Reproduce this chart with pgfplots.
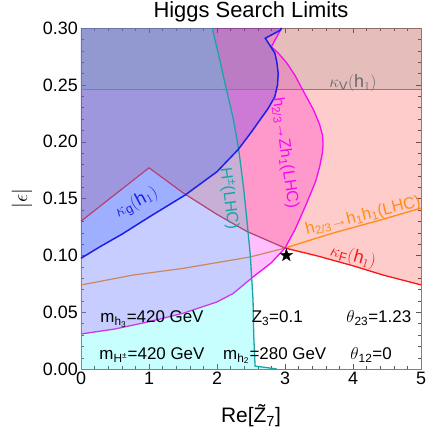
\documentclass[border=0pt]{standalone}
\usepackage{fontspec}
\setmainfont{Liberation Sans}
\usepackage{pgfplots}
\pgfplotsset{compat=1.18}
\definecolor{cteal}{RGB}{25,165,165}
\definecolor{cmagL}{RGB}{200,60,230}
\definecolor{cmagR}{RGB}{245,10,245}
\definecolor{credL}{RGB}{180,65,115}
\definecolor{credR}{RGB}{250,20,20}
\definecolor{corL}{RGB}{205,135,95}
\definecolor{corR}{RGB}{255,140,20}
\definecolor{cblue}{RGB}{30,30,230}
\definecolor{ckv}{RGB}{125,135,125}
\definecolor{ckvtext}{RGB}{105,105,105}
\definecolor{fmag}{RGB}{255,0,255}
\definecolor{fred}{RGB}{255,0,0}
\definecolor{fblue}{RGB}{0,0,255}
\definecolor{fcyan}{RGB}{0,255,255}
\pgfdeclareplotmark{fstar}{%
  \pgfpathmoveto{\pgfpointpolar{90}{\pgfplotmarksize}}%
  \pgfpathlineto{\pgfpointpolar{126}{0.4\pgfplotmarksize}}%
  \pgfpathlineto{\pgfpointpolar{162}{\pgfplotmarksize}}%
  \pgfpathlineto{\pgfpointpolar{198}{0.4\pgfplotmarksize}}%
  \pgfpathlineto{\pgfpointpolar{234}{\pgfplotmarksize}}%
  \pgfpathlineto{\pgfpointpolar{270}{0.4\pgfplotmarksize}}%
  \pgfpathlineto{\pgfpointpolar{306}{\pgfplotmarksize}}%
  \pgfpathlineto{\pgfpointpolar{342}{0.4\pgfplotmarksize}}%
  \pgfpathlineto{\pgfpointpolar{18}{\pgfplotmarksize}}%
  \pgfpathlineto{\pgfpointpolar{54}{0.4\pgfplotmarksize}}%
  \pgfpathclose\pgfusepathqfillstroke}
\begin{document}
\begin{tikzpicture}
\begin{axis}[
  scale only axis, width=340bp, height=341bp,
  xmin=0, xmax=5, ymin=0, ymax=0.3,
  xtick={0,1,2,3,4,5},
  ytick={0,0.05,0.1,0.15,0.2,0.25,0.3},
  minor x tick num=4, minor y tick num=4,
  tick align=inside,
  major tick length=5bp, minor tick length=3bp,
  axis line style={gray},
  tick style={gray!70!black},
  clip=false,
  scaled y ticks=false,
  tick label style={font=\fontsize{18}{18}\selectfont},
  /pgf/number format/assume math mode=true,
  yticklabel style={/pgf/number format/fixed, /pgf/number format/fixed zerofill, /pgf/number format/precision=2, inner sep=0pt, xshift=-3bp},
  xticklabel style={inner sep=0pt, yshift=-3bp},
]
% magenta region h2/3 -> Z h1
\addplot[draw=none, fill=fmag, fill opacity=0.25] coordinates {(0,0.0308)(0.5,0.0352)(1,0.0416)(1.5,0.049)(2,0.059)(2.24,0.0665)(2.53,0.081)(2.8,0.0935)(3.0,0.1064)(3.15,0.123)(3.32,0.146)(3.45,0.165)(3.51,0.178)(3.55,0.19)(3.56,0.198)(3.55,0.206)(3.51,0.215)(3.42,0.228)(3.26,0.2455)(3.15,0.258)(3.03,0.269)(2.9,0.278)(2.8,0.2835)(2.95,0.3)(0,0.3)};
% red region kappa_F
\addplot[draw=none, fill=fred, fill opacity=0.2] coordinates {(0,0.130)(1,0.177)(1.5,0.155)(2,0.136)(2.44,0.121)(3,0.1064)(3.5,0.0991)(4,0.0908)(4.44,0.0827)(5,0.074)(5,0.3)(0,0.3)};
% blue region kappa_g
\addplot[draw=none, fill=fblue, fill opacity=0.2] coordinates {(0,0.0974)(0.28,0.1076)(0.6,0.1185)(1.01,0.134)(1.53,0.153)(2.0,0.1736)(2.31,0.193)(2.5,0.208)(2.63,0.219)(2.75,0.229)(2.85,0.2395)(2.89,0.25)(2.9,0.26)(2.88,0.27)(2.85,0.278)(2.71,0.291)(2.93,0.298)(2.95,0.3)(0,0.3)};
% kappa_V region
\addplot[draw=none, fill=ckv, fill opacity=0.2] coordinates {(0,0.2455)(5,0.2455)(5,0.3)(0,0.3)};
% cyan region H+-
\addplot[draw=none, fill=fcyan, fill opacity=0.22] coordinates {(0,0)(2.88,0)(2.56,0.0026)(2.54,0.03)(2.53,0.0607)(2.49,0.1)(2.44,0.131)(2.39,0.16)(2.32,0.1927)(2.24,0.22)(2.14,0.2455)(2.04,0.272)(1.93,0.3)(0,0.3)};
% lines
\addplot[gray, line width=1.1bp] coordinates {(0,0.2455)(5,0.2455)};
\addplot[corL, line width=1.2bp] coordinates {(0,0.0739)(0.77,0.0827)(1.5,0.0885)(2.49,0.0986)(3.0,0.1064)};
\addplot[corR, line width=1.3bp] coordinates {(3.0,0.1064)(3.71,0.1197)(4.4,0.131)(5,0.1416)};
\addplot[credL, line width=1.2bp] coordinates {(0,0.130)(1,0.177)(1.5,0.155)(2,0.136)(2.44,0.121)(3,0.1064)};
\addplot[credR, line width=1.3bp] coordinates {(3,0.1064)(3.5,0.0991)(4,0.0908)(4.44,0.0827)(5,0.074)};
\addplot[cteal, line width=1.3bp] coordinates {(2.88,0)(2.56,0.0026)(2.54,0.03)(2.53,0.0607)(2.49,0.1)(2.44,0.131)(2.39,0.16)(2.32,0.1927)(2.24,0.22)(2.14,0.2455)(2.04,0.272)(1.93,0.3)};
\addplot[cmagL, line width=1.3bp] coordinates {(0,0.0308)(0.5,0.0352)(1,0.0416)(1.5,0.049)(2,0.059)(2.24,0.0665)(2.53,0.081)};
\addplot[cmagR, line width=1.3bp] coordinates {(2.53,0.081)(2.8,0.0935)(3.0,0.1064)(3.15,0.123)(3.32,0.146)(3.45,0.165)(3.51,0.178)(3.55,0.19)(3.56,0.198)(3.55,0.206)(3.51,0.215)(3.42,0.228)(3.26,0.2455)(3.15,0.258)(3.03,0.269)(2.9,0.278)(2.8,0.2835)(2.95,0.3)};
\addplot[cblue, line width=1.5bp] coordinates {(0,0.0974)(0.28,0.1076)(0.6,0.1185)(1.01,0.134)(1.53,0.153)(2.0,0.1736)(2.31,0.193)(2.5,0.208)(2.63,0.219)(2.75,0.229)(2.85,0.2395)(2.89,0.25)(2.9,0.26)(2.88,0.27)(2.85,0.278)(2.71,0.291)(2.93,0.298)(2.95,0.3)};
\addplot[only marks, mark=fstar, mark size=6.5bp, black] coordinates {(3.02,0.1)};
% curve labels
\node[ckvtext, font=\fontsize{18}{18}\selectfont] at (axis cs:4.0,0.2515) {$\kappa_{\mathrm{V}}(\mathrm{h}_1)$};
\node[cmagR, rotate=-82, font=\fontsize{16.5}{16.5}\selectfont] at (axis cs:3.0,0.19) {h\textsubscript{2/3}→Zh\textsubscript{1}(LHC)};
\node[cteal, rotate=-82.5, font=\fontsize{16.5}{16.5}\selectfont] at (axis cs:2.18,0.15) {H\textsuperscript{±}(LHC)};
\node[cblue, rotate=28, font=\fontsize{18}{18}\selectfont] at (axis cs:0.82,0.146) {$\kappa_{\mathrm{g}}(\mathrm{h}_1)$};
\node[corR, rotate=14, font=\fontsize{16.5}{16.5}\selectfont] at (axis cs:4.15,0.1346) {h\textsubscript{2/3}→h\textsubscript{1}h\textsubscript{1}(LHC)};
\node[credR, rotate=-15, font=\fontsize{18}{18}\selectfont] at (axis cs:4.0,0.0985) {$\kappa_{\mathrm{F}}(\mathrm{h}_1)$};
% parameter text
\node[anchor=base west, font=\fontsize{17}{17}\selectfont] at (axis cs:0.235,0.0407) {m\textsubscript{h\textsubscript{3}}=420 GeV};
\node[anchor=base west, font=\fontsize{17}{17}\selectfont] at (axis cs:2.46,0.0407) {Z\textsubscript{3}=0.1};
\node[anchor=base west, font=\fontsize{17}{17}\selectfont] at (axis cs:3.85,0.0407) {$\theta$\textsubscript{23}=1.23};
\node[anchor=base west, font=\fontsize{17}{17}\selectfont] at (axis cs:0.22,0.0084) {m\textsubscript{H\textsuperscript{±}}=420 GeV};
\node[anchor=base west, font=\fontsize{17}{17}\selectfont] at (axis cs:2.04,0.0084) {m\textsubscript{h\textsubscript{2}}=280 GeV};
\node[anchor=base west, font=\fontsize{17}{17}\selectfont] at (axis cs:3.91,0.0084) {$\theta$\textsubscript{12}=0};
% titles
\node[anchor=base, font=\fontsize{22}{22}\selectfont] at (axis cs:2.5,0.3088) {Higgs Search Limits};
\node[anchor=base, font=\fontsize{21}{21}\selectfont] at (axis cs:2.5,-0.0475) {Re[\~{Z}\textsubscript{7}]};
\node[rotate=90, font=\fontsize{21}{21}\selectfont] at (axis cs:-0.868,0.15) {$|\epsilon|$};
\end{axis}
\pgfresetboundingbox
\path (-81bp,-69bp) rectangle (345bp,369bp);
\end{tikzpicture}
\end{document}
